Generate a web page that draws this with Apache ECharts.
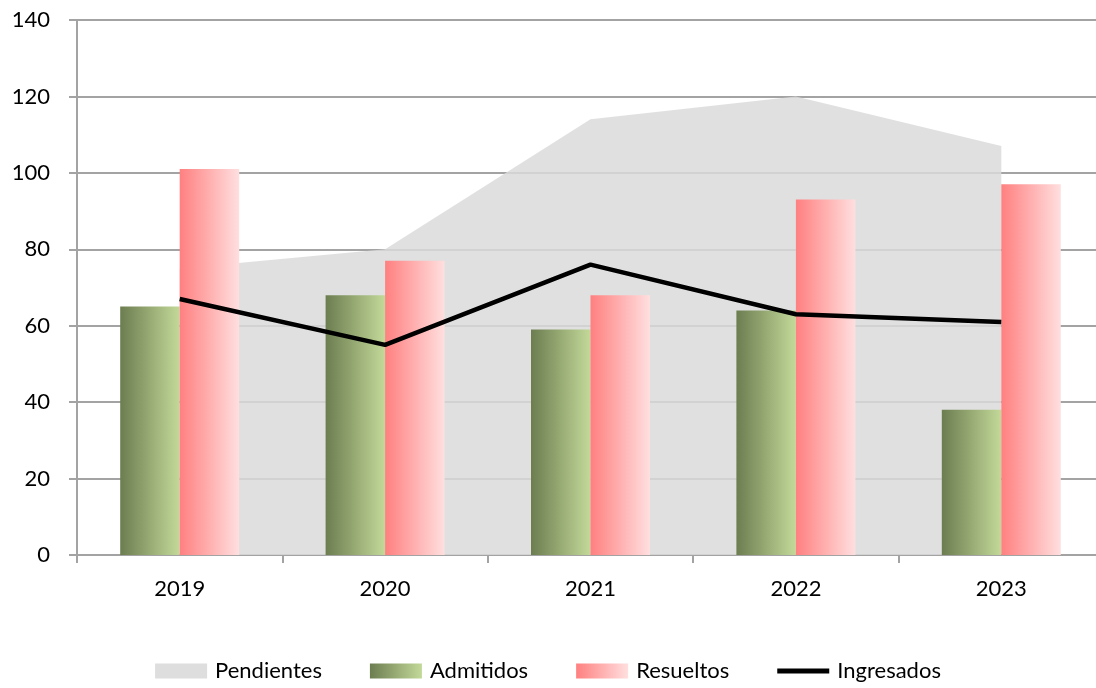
<!DOCTYPE html>
<html>
<head>
<meta charset="utf-8">
<script src="https://cdn.jsdelivr.net/npm/echarts@6/dist/echarts.min.js"></script>
<style>
  html, body { margin: 0; padding: 0; background: #fff; }
  #chart { width: 1096px; height: 688px; }
</style>
</head>
<body>
<div id="chart"></div>
<script>
// datos
var years = ['2019', '2020', '2021', '2022', '2023'];
var pendientes = [75, 80, 114, 120, 107];
var admitidos = [65, 68, 59, 64, 38];
var resueltos = [101, 77, 68, 93, 97];
var ingresados = [67, 55, 76, 63, 61];

var font = 'Lato, "Noto Sans", sans-serif';
var gridColor = '#a3a3a3';

const chartDom = document.getElementById('chart');
const myChart = echarts.init(chartDom);
let option;

option = {
    animation: false,
    textStyle: { fontFamily: font },
    grid: { left: 77, right: -8, top: 20, bottom: 133, outerBoundsMode: 'none' },
    legend: {
        top: 655,
        left: 'center',
        itemWidth: 52,
        itemHeight: 15,
        itemGap: 48,
        textStyle: { fontSize: 22, color: '#000', fontFamily: font, padding: [0, 0, 0, 3] },
        data: [
            { name: 'Pendientes', icon: 'rect' },
            { name: 'Admitidos', icon: 'rect' },
            { name: 'Resueltos', icon: 'rect' },
            { name: 'Ingresados', icon: 'path://M0,0L10,0L10,1L0,1Z' }
        ]
    },
    xAxis: {
        type: 'category',
        data: years,
        axisLine: { lineStyle: { color: gridColor, width: 2 } },
        axisTick: { show: true, length: 8, lineStyle: { color: gridColor, width: 2 } },
        axisLabel: { fontSize: 22, color: '#000', margin: 23 }
    },
    yAxis: {
        type: 'value',
        min: 0,
        max: 140,
        interval: 20,
        axisLine: { show: true, lineStyle: { color: gridColor, width: 2 } },
        axisTick: { show: true, length: 8, lineStyle: { color: gridColor, width: 2 } },
        axisLabel: { fontSize: 22, color: '#000', margin: 27 },
        splitLine: { lineStyle: { color: gridColor, width: 2 } }
    },
    series: [
        {
            name: 'Pendientes',
            type: 'line',
            data: pendientes,
            symbol: 'none',
            z: 1,
            lineStyle: { width: 0 },
            itemStyle: { color: '#dedede' },
            areaStyle: { color: '#dadada', opacity: 0.85 }
        },
        {
            name: 'Admitidos',
            type: 'bar',
            data: admitidos,
            barWidth: 59.5,
            barGap: '0%',
            z: 3,
            itemStyle: {
                color: new echarts.graphic.LinearGradient(0, 0, 1, 0, [
                    { offset: 0, color: '#6c7d50' },
                    { offset: 1, color: '#c3d999' }
                ])
            }
        },
        {
            name: 'Resueltos',
            type: 'bar',
            data: resueltos,
            barWidth: 59.5,
            barGap: '0%',
            z: 3,
            itemStyle: {
                color: new echarts.graphic.LinearGradient(0, 0, 1, 0, [
                    { offset: 0, color: '#ff8080' },
                    { offset: 1, color: '#ffdfdf' }
                ])
            }
        },
        {
            name: 'Ingresados',
            type: 'line',
            data: ingresados,
            symbol: 'none',
            z: 5,
            lineStyle: { color: '#000', width: 4.5 },
            itemStyle: { color: '#000' }
        }
    ]
};

option && myChart.setOption(option);
</script>
</body>
</html>
